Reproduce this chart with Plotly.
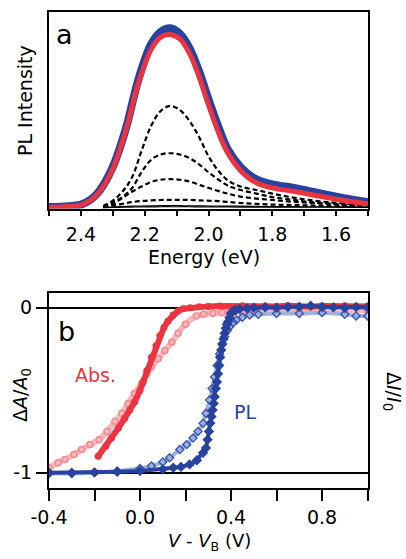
import plotly.graph_objects as go

# ---------------- Panel a: PL spectra ----------------
energy_main = [2.50, 2.45, 2.40, 2.37, 2.34, 2.30, 2.26, 2.22, 2.18, 2.15, 2.12, 2.09, 2.06, 2.03,
               2.00, 1.97, 1.94, 1.90, 1.86, 1.82, 1.78, 1.74, 1.70, 1.66, 1.62, 1.58, 1.54, 1.50]
pl_blue = [0.005, 0.008, 0.018, 0.045, 0.10, 0.23, 0.44, 0.72, 0.92, 0.99, 1.01, 0.98, 0.90, 0.77,
           0.61, 0.46, 0.33, 0.23, 0.17, 0.14, 0.125, 0.115, 0.10, 0.085, 0.07, 0.055, 0.043, 0.033]
pl_red = [0.003, 0.006, 0.016, 0.042, 0.095, 0.22, 0.43, 0.70, 0.89, 0.96, 0.975, 0.95, 0.87, 0.74,
          0.58, 0.43, 0.31, 0.21, 0.15, 0.12, 0.105, 0.095, 0.082, 0.068, 0.055, 0.042, 0.031, 0.022]

energy_dash = [2.33, 2.30, 2.27, 2.24, 2.21, 2.18, 2.15, 2.12, 2.09, 2.06, 2.03, 2.00, 1.97, 1.94,
               1.90, 1.85, 1.80, 1.75, 1.70, 1.65, 1.60, 1.55, 1.50]
dash_1 = [0.01, 0.04, 0.09, 0.17, 0.32, 0.46, 0.545, 0.573, 0.55, 0.49, 0.40, 0.29, 0.21, 0.155,
          0.12, 0.10, 0.08, 0.062, 0.048, 0.036, 0.028, 0.021, 0.016]
dash_2 = [0.005, 0.03, 0.06, 0.11, 0.20, 0.27, 0.30, 0.307, 0.30, 0.28, 0.245, 0.20, 0.16, 0.125,
          0.10, 0.08, 0.06, 0.048, 0.036, 0.028, 0.022, 0.018, 0.014]
dash_3 = [0.004, 0.02, 0.055, 0.09, 0.12, 0.145, 0.158, 0.161, 0.158, 0.148, 0.13, 0.112, 0.095, 0.08,
          0.063, 0.052, 0.044, 0.036, 0.03, 0.025, 0.02, 0.016, 0.013]
dash_4 = [0.003, 0.012, 0.022, 0.032, 0.038, 0.042, 0.044, 0.045, 0.045, 0.044, 0.042, 0.04, 0.038, 0.033,
          0.027, 0.022, 0.018, 0.016, 0.014, 0.012, 0.011, 0.01, 0.009]
solid_1 = [0.001, 0.004, 0.007, 0.009, 0.010, 0.011, 0.012, 0.012, 0.012, 0.011, 0.011, 0.010, 0.010, 0.009,
           0.009, 0.008, 0.007, 0.007, 0.006, 0.006, 0.005, 0.005, 0.004]
solid_2 = [0.000, 0.002, 0.003, 0.004, 0.005, 0.005, 0.006, 0.006, 0.006, 0.006, 0.005, 0.005, 0.005, 0.005,
           0.004, 0.004, 0.004, 0.003, 0.003, 0.003, 0.003, 0.002, 0.002]

energy_ticks = [2.4, 2.2, 2.0, 1.8, 1.6]

# ---------------- Panel b: normalized changes ----------------
v_abs_filled = [-0.184, -0.15, -0.125, -0.095, -0.067, -0.045, -0.023, 0.0, 0.014, 0.03, 0.05, 0.07,
                0.087, 0.105, 0.123, 0.145, 0.167, 0.19, 0.22, 0.26, 0.30, 0.35, 0.40, 0.45, 0.50,
                0.55, 0.60, 0.65, 0.70, 0.75, 0.80, 0.85, 0.90, 0.95, 1.0]
abs_filled = [-0.90, -0.84, -0.79, -0.73, -0.67, -0.62, -0.57, -0.50, -0.45, -0.38, -0.30, -0.23,
              -0.17, -0.12, -0.08, -0.045, -0.02, -0.006, 0.0, 0.006, 0.008, 0.01, 0.008, 0.012, 0.007,
              0.01, 0.008, 0.012, 0.008, 0.006, 0.01, 0.008, 0.012, 0.007, 0.008]

v_abs_open = [-0.40, -0.36, -0.33, -0.29, -0.257, -0.22, -0.18, -0.145, -0.11, -0.08, -0.052, -0.025,
              0.007, 0.03, 0.05, 0.08, 0.109, 0.14, 0.167, 0.2, 0.248, 0.28, 0.32, 0.36, 0.394, 0.45,
              0.5, 0.6, 0.7, 0.8, 0.9, 1.0]
abs_open = [-0.97, -0.94, -0.92, -0.89, -0.86, -0.83, -0.80, -0.75, -0.69, -0.64, -0.58, -0.52,
            -0.46, -0.40, -0.36, -0.31, -0.26, -0.21, -0.155, -0.10, -0.05, -0.04, -0.034, -0.03,
            -0.03, -0.025, -0.02, -0.02, -0.018, -0.02, -0.015, -0.015]

v_pl_filled = [-0.40, -0.30, -0.20, -0.10, 0.0, 0.1, 0.146, 0.18, 0.218, 0.25, 0.277, 0.290, 0.297,
               0.303, 0.309, 0.314, 0.319, 0.324, 0.328, 0.333, 0.338, 0.343, 0.348, 0.352, 0.357,
               0.362, 0.367, 0.372, 0.377, 0.382, 0.387, 0.393, 0.40, 0.41, 0.42, 0.438, 0.47, 0.5,
               0.55, 0.6, 0.65, 0.7, 0.75, 0.8, 0.85, 0.9, 0.95, 1.0]
pl_filled = [-1.0, -1.0, -0.998, -0.995, -0.99, -0.98, -0.97, -0.965, -0.95, -0.925, -0.88, -0.85, -0.80,
             -0.75, -0.70, -0.66, -0.62, -0.58, -0.54, -0.49, -0.45, -0.40, -0.35, -0.30, -0.256,
             -0.22, -0.19, -0.155, -0.125, -0.10, -0.085, -0.06, -0.034, -0.02, -0.015, -0.008, -0.004, 0.0,
             0.003, 0.0, 0.004, 0.006, 0.012, 0.004, 0.002, 0.0, 0.004, 0.003]

v_pl_open = [-0.40, -0.30, -0.20, -0.10, 0.0, 0.05, 0.1, 0.13, 0.175, 0.205, 0.233, 0.255, 0.277, 0.29,
             0.306, 0.317, 0.328, 0.339, 0.35, 0.361, 0.372, 0.383, 0.394, 0.41, 0.424, 0.45, 0.482,
             0.52, 0.6, 0.7, 0.8, 0.9, 0.95, 1.0]
pl_open = [-1.005, -1.005, -1.0, -0.99, -0.975, -0.96, -0.935, -0.91, -0.86, -0.83, -0.79, -0.75, -0.70,
           -0.64, -0.56, -0.49, -0.42, -0.35, -0.28, -0.22, -0.176, -0.14, -0.115, -0.09, -0.075, -0.058,
           -0.044, -0.04, -0.035, -0.035, -0.03, -0.04, -0.05, -0.05]

volt_ticks = [-0.4, 0.0, 0.4, 0.8]
norm_ticks = [0, -1]

RED = "#ee3340"
PINK = "#f08a90"
PINK_BAND = "#f7b9bc"
BLUE = "#28439f"
BLUE_OPEN = "#3a58b4"
BLUE_BAND = "#9fb0dc"
FONT = "DejaVu Sans"

fig = go.Figure()

# panel a traces
for vals in [solid_1, solid_2]:
    fig.add_trace(go.Scatter(x=energy_dash, y=vals, mode="lines", xaxis="x", yaxis="y",
                             line=dict(color="black", width=1.2, shape="spline"), showlegend=False))
for vals in [dash_1, dash_2, dash_3, dash_4]:
    fig.add_trace(go.Scatter(x=energy_dash, y=vals, mode="lines", xaxis="x", yaxis="y",
                             line=dict(color="black", width=2.2, dash="5px,3px", shape="spline"),
                             showlegend=False))
fig.add_trace(go.Scatter(x=energy_main, y=pl_blue, mode="lines", xaxis="x", yaxis="y",
                         line=dict(color=BLUE, width=8, shape="spline"), showlegend=False))
fig.add_trace(go.Scatter(x=energy_main, y=pl_red, mode="lines", xaxis="x", yaxis="y",
                         line=dict(color=RED, width=5, shape="spline"), showlegend=False))

# panel b traces: open-symbol series drawn as a pale band with open markers on top
fig.add_trace(go.Scatter(x=v_abs_open, y=abs_open, mode="lines+markers", xaxis="x2", yaxis="y2",
                         line=dict(color=PINK_BAND, width=6, shape="spline", smoothing=0.6),
                         marker=dict(symbol="circle-open", size=6, color=PINK, line=dict(width=1.5)),
                         showlegend=False))
fig.add_trace(go.Scatter(x=v_pl_open, y=pl_open, mode="lines+markers", xaxis="x2", yaxis="y2",
                         line=dict(color=BLUE_BAND, width=4, shape="spline", smoothing=0.6),
                         marker=dict(symbol="diamond-open", size=6, color=BLUE_OPEN, line=dict(width=1.5)),
                         showlegend=False))
fig.add_trace(go.Scatter(x=v_abs_filled, y=abs_filled, mode="lines+markers", xaxis="x2", yaxis="y2",
                         line=dict(color=RED, width=6),
                         marker=dict(symbol="circle", size=7, color=RED),
                         showlegend=False))
fig.add_trace(go.Scatter(x=v_pl_filled, y=pl_filled, mode="lines+markers", xaxis="x2", yaxis="y2",
                         line=dict(color=BLUE, width=4),
                         marker=dict(symbol="diamond", size=8, color=BLUE),
                         showlegend=False))

axis_common = dict(showline=True, linecolor="black", linewidth=2, mirror=True,
                   showgrid=False, zeroline=False, automargin=False,
                   tickfont=dict(family=FONT, size=19, color="black"))

fig.update_layout(
    width=406, height=559,
    margin=dict(l=0, r=0, t=0, b=0),
    paper_bgcolor="white", plot_bgcolor="white",
    font=dict(family=FONT, color="black"),
    xaxis=dict(**axis_common, domain=[0.1207, 0.9064], anchor="y",
               range=[2.5, 1.5], tickvals=energy_ticks, ticktext=[f"{t:.1f}" for t in energy_ticks],
               ticks="outside", ticklen=5, tickwidth=2, tickcolor="black",
               minor=dict(dtick=0.1, tick0=1.5, ticks="outside", ticklen=5, tickwidth=2, tickcolor="black"),
               ticklabelstandoff=3),
    yaxis=dict(**axis_common, domain=[0.6270, 0.9780], anchor="x",
               range=[-0.004, 1.1], showticklabels=False, ticks=""),
    xaxis2=dict(**axis_common, domain=[0.1207, 0.9064], anchor="y2",
                range=[-0.4, 1.002], tickvals=volt_ticks, ticktext=[f"{t:.1f}" for t in volt_ticks],
                ticks="outside", ticklen=11, tickwidth=2, tickcolor="black",
                minor=dict(dtick=0.2, tick0=-0.4, ticks="outside", ticklen=11, tickwidth=2, tickcolor="black"),
                ticklabelstandoff=0),
    yaxis2=dict(showline=True, linecolor="black", linewidth=2, mirror=True, zeroline=False,
                automargin=False,
                domain=[0.1270, 0.4764], anchor="x2", range=[-1.093, 0.091],
                tickvals=norm_ticks, ticktext=["0", "-1"],
                ticks="outside", ticklen=11, tickwidth=2, tickcolor="black",
                showgrid=True, gridcolor="black", gridwidth=2,
                tickfont=dict(family=FONT, size=19, color="black")),
    yaxis3=dict(overlaying="y2", side="right", anchor="x2", range=[-1.093, 0.091],
                automargin=False,
                tickvals=norm_ticks, ticktext=["0", "-1"], showline=False, showgrid=False,
                zeroline=False, ticks="outside", ticklen=11, tickwidth=2, tickcolor="black",
                tickfont=dict(family=FONT, size=19, color="black")),
)

ann = [
    dict(text="a", x=64, y=35, size=27, color="black", angle=0),
    dict(text="PL Intensity", x=25, y=101, size=19, color="black", angle=-90),
    dict(text="Energy (eV)", x=204, y=257, size=19, color="black", angle=0),
    dict(text="b", x=66, y=331, size=27, color="black", angle=0),
    dict(text="Abs.", x=95, y=375, size=19, color=RED, angle=0),
    dict(text="PL", x=245, y=412, size=19, color=BLUE, angle=0),
    dict(text="Δ<i>A</i>/<i>A</i><sub>0</sub>", x=21, y=395, size=19, color="black", angle=-90),
    dict(text="Δ<i>I</i>/<i>I</i><sub>0</sub>", x=393, y=391, size=19, color="black", angle=90),
    dict(text="<i>V</i> - <i>V</i><sub>B</sub> (V)", x=209, y=542, size=18, color="black", angle=0),
]
for a in ann:
    fig.add_annotation(text=a["text"], x=a["x"] / 406, y=1 - a["y"] / 559, xref="paper", yref="paper",
                       xanchor="center", yanchor="middle", showarrow=False, textangle=a["angle"],
                       font=dict(family=FONT, size=a["size"], color=a["color"]))

fig.write_html("out.html")
